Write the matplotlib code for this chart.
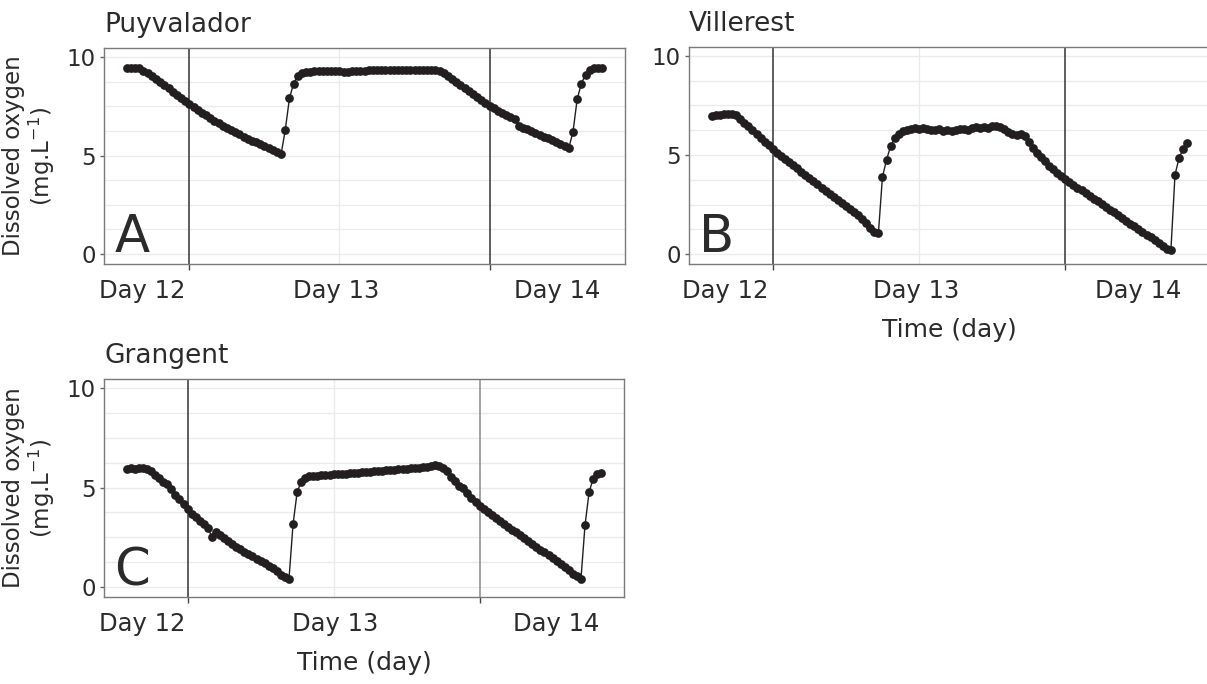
import numpy as np
import matplotlib.pyplot as plt
from matplotlib.ticker import MultipleLocator

# dissolved oxygen (mg/L), one reading every 20 min, starting 5 h before midnight
do_puyvalador = [
    9.45, 9.46, 9.45, 9.42, 9.30, 9.16, 9.01, 8.86, 8.71, 8.56, 8.40, 8.24,
    8.08, 7.92, 7.76, 7.60, 7.45, 7.31, 7.17, 7.03, 6.90, 6.77, 6.64, 6.52,
    6.40, 6.29, 6.18, 6.07, 5.96, 5.86, 5.76, 5.66, 5.56, 5.46, 5.36, 5.26,
    5.16, 5.06, 6.30, 7.90, 8.65, 9.05, 9.18, 9.23, 9.25, 9.26, 9.27, 9.28,
    9.28, 9.29, 9.29, 9.26, 9.22, 9.24, 9.27, 9.29, 9.30, 9.30, 9.31, 9.31,
    9.31, 9.32, 9.32, 9.32, 9.33, 9.33, 9.33, 9.34, 9.34, 9.34, 9.35, 9.35,
    9.35, 9.35, 9.34, 9.30, 9.18, 9.03, 8.88, 8.73, 8.58, 8.43, 8.28, 8.13,
    7.98, 7.82, 7.66, 7.50, 7.39, 7.28, 7.17, 7.06, 6.95, 6.84, 6.50, 6.41,
    6.32, 6.23, 6.14, 6.05, 5.96, 5.87, 5.78, 5.68, 5.58, 5.48, 5.38, 6.20,
    7.85, 8.65, 9.10, 9.35, 9.42, 9.44, 9.45,
]
do_villerest = [
    6.97, 7.02, 7.04, 7.05, 7.05, 7.06, 7.02, 6.83, 6.64, 6.44, 6.25, 6.06,
    5.87, 5.67, 5.48, 5.29, 5.12, 4.96, 4.80, 4.64, 4.48, 4.32, 4.16, 4.00,
    3.84, 3.68, 3.52, 3.36, 3.20, 3.05, 2.90, 2.74, 2.58, 2.43, 2.28, 2.12,
    1.95, 1.76, 1.55, 1.32, 1.12, 1.05, 3.90, 4.75, 5.45, 5.85, 6.05, 6.20,
    6.28, 6.32, 6.35, 6.33, 6.38, 6.30, 6.28, 6.25, 6.30, 6.22, 6.26, 6.20,
    6.27, 6.30, 6.33, 6.28, 6.36, 6.40, 6.35, 6.42, 6.38, 6.45, 6.47, 6.40,
    6.30, 6.18, 6.08, 6.02, 6.05, 5.95, 5.65, 5.35, 5.10, 4.88, 4.68, 4.45,
    4.28, 4.10, 3.94, 3.78, 3.64, 3.50, 3.36, 3.22, 3.08, 2.94, 2.80, 2.66,
    2.52, 2.38, 2.24, 2.10, 1.96, 1.82, 1.68, 1.54, 1.40, 1.26, 1.12, 0.98,
    0.84, 0.70, 0.56, 0.42, 0.28, 0.22, 4.00, 4.85, 5.30, 5.60,
]
do_grangent = [
    5.95, 5.96, 5.94, 5.98, 6.00, 5.95, 5.85, 5.65, 5.50, 5.30, 5.18, 4.90,
    4.62, 4.40, 4.15, 3.90, 3.68, 3.50, 3.32, 3.15, 2.98, 2.50, 2.75, 2.60,
    2.48, 2.30, 2.18, 2.00, 1.90, 1.78, 1.65, 1.55, 1.42, 1.30, 1.20, 1.08,
    0.95, 0.80, 0.62, 0.48, 0.40, 3.15, 4.75, 5.30, 5.50, 5.56, 5.58, 5.60,
    5.62, 5.63, 5.65, 5.66, 5.67, 5.69, 5.70, 5.72, 5.73, 5.75, 5.76, 5.78,
    5.80, 5.81, 5.83, 5.85, 5.86, 5.88, 5.90, 5.91, 5.93, 5.95, 5.96, 5.98,
    6.00, 6.02, 6.05, 6.08, 6.12, 6.10, 6.00, 5.85, 5.55, 5.35, 5.10, 4.95,
    4.70, 4.45, 4.25, 4.05, 3.92, 3.78, 3.62, 3.48, 3.32, 3.18, 3.02, 2.88,
    2.74, 2.60, 2.45, 2.30, 2.18, 2.02, 1.88, 1.75, 1.60, 1.45, 1.32, 1.18,
    1.02, 0.88, 0.68, 0.55, 0.40, 3.10, 4.75, 5.45, 5.68, 5.75,
]

sites = ['Puyvalador', 'Villerest', 'Grangent']
letters = ['A', 'B', 'C']
day_labels = ['Day 12', 'Day 13', 'Day 14']

START_H = -5
STEP_H = 20 / 60

# where plotly put the period labels (hours from first midnight)
label_pos = [[-3.8, 11.7, 29.4], [-3.9, 11.8, 30.0], [-3.7, 12.1, 30.3]]
# axes boxes in pixels: left, top, right, bottom
boxes = [(104, 48, 625, 264), (689, 47, 1210, 264), (104, 379, 624, 597)]

W, H = 1207, 684
TXT = '#2b2b2b'
DOT = '#231f20'

plt.rcParams['font.family'] = 'DejaVu Sans'
fig = plt.figure(figsize=(W / 100, H / 100), dpi=100)

for i, values in enumerate([do_puyvalador, do_villerest, do_grangent]):
    l, t, r, b = boxes[i]
    ax = fig.add_axes([l / W, 1 - b / H, (r - l) / W, (b - t) / H])
    hours = START_H + np.arange(len(values)) * STEP_H

    ax.plot(hours, values, '-', color=DOT, lw=1, zorder=4)
    ax.plot(hours, values, 'o', color=DOT, ms=6.3, mew=0, zorder=5)

    span = hours[-1] - hours[0]
    ax.set_xlim(hours[0] - 0.048 * span, hours[-1] + 0.048 * span)
    ax.set_ylim(-0.5, 10.45)

    # grid
    ax.yaxis.set_minor_locator(MultipleLocator(1.25))
    ax.grid(which='both', axis='y', color='#ebebeb', lw=1, zorder=0)
    ax.axvline(12, color='#ebebeb', lw=1, zorder=0)
    # midnight lines
    for k, h in enumerate([0, 24]):
        c = '#8a8a8a' if (i == 2 and k == 1) else '#333333'
        ax.axvline(h, color=c, lw=1.1, zorder=2)

    ax.set_yticks([0, 5, 10])
    ax.set_yticklabels(['0', '5', '10'])
    ax.tick_params(axis='y', which='major', length=3, width=1, color='#666666',
                   labelsize=16.5, labelcolor=TXT, pad=3)
    ax.tick_params(axis='y', which='minor', length=0)

    ax.set_xticks(label_pos[i])
    ax.set_xticklabels(day_labels)
    ax.set_xticks([0, 24], minor=True)
    ax.tick_params(axis='x', which='major', length=0, labelsize=17.5,
                   labelcolor=TXT, pad=11)
    ax.tick_params(axis='x', which='minor', length=4, width=1, color='#444444')

    for s in ax.spines.values():
        s.set_color('#7a7a7a')
        s.set_linewidth(1)
        s.set_zorder(3)

    ax.text(0.0, 1.075, sites[i], transform=ax.transAxes, ha='left',
            va='baseline', fontsize=19, color=TXT)
    ax.text(0.02, 0.055, letters[i], transform=ax.transAxes, ha='left',
            va='baseline', fontsize=37, color=TXT, zorder=6)

    if i != 1:
        ax.text(-0.143, 0.5, 'Dissolved oxygen\n(mg.L$^{-1}$)',
                transform=ax.transAxes, rotation=90, ha='center',
                va='center', fontsize=16.5, color=TXT, linespacing=1.05)
    if i != 0:
        ax.text(0.5, -0.335, 'Time (day)', transform=ax.transAxes,
                ha='center', va='baseline', fontsize=18, color=TXT)

fig.savefig('out.png', dpi=100)
